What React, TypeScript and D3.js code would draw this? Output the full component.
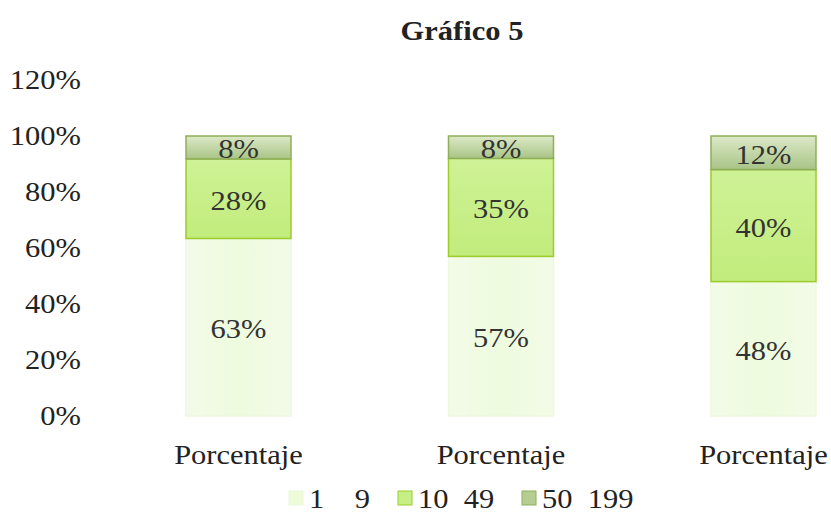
import React from "react";
import * as d3 from "d3";

const WIDTH = 831;
const HEIGHT = 522;

const categories = ["Porcentaje A", "Porcentaje B", "Porcentaje C"];
const categoryLabels = ["Porcentaje", "Porcentaje", "Porcentaje"];
const seriesNames = ["1    9", "10  49", "50  199"];
// shares (labels show them rounded)
const small = [63.4, 57, 48]; // 1 - 9
const medium = [28.4, 35, 40]; // 10 - 49
const large = [8.2, 8, 12]; // 50 - 199
const yTicks = [0, 20, 40, 60, 80, 100, 120];

const fills = ["url(#g0)", "url(#g1)", "url(#g2)"];
const strokes = ["#eef7df", "#9ccc2c", "#8fae5a"];
const legendFills = ["#eefbd8", "#c6ef86", "#b5cd92"];

const FONT = "'Liberation Serif', 'Times New Roman', serif";
const SX = 1.13; // the scan is a bit wider than tall

function T(props: {
  x: number;
  y: number;
  size: number;
  anchor?: string;
  bold?: boolean;
  fill?: string;
  children: React.ReactNode;
}) {
  return (
    <text
      transform={`translate(${props.x},${props.y}) scale(${SX},1)`}
      textAnchor={props.anchor ?? "start"}
      fontFamily={FONT}
      fontSize={props.size}
      fontWeight={props.bold ? "bold" : "normal"}
      fill={props.fill ?? "#222"}
      style={{ whiteSpace: "pre" }}
    >
      {props.children}
    </text>
  );
}

export default function App() {
  const x = d3.scaleBand().domain(categories).range([186, 816]).paddingInner(0.6).paddingOuter(0);
  const y = d3.scaleLinear().domain([0, 120]).range([416, 80]);

  const series = [small, medium, large];
  const rows = categories.map((c, i) => ({ c, v: series.map((s) => s[i]) }));
  const stack = d3
    .stack<{ c: string; v: number[] }>()
    .keys(["0", "1", "2"])
    .value((d, k) => d.v[+k]);
  const layers = stack(rows);

  const legendX = [289, 398, 522];

  return (
    <svg width={WIDTH} height={HEIGHT} style={{ position: "absolute", left: 0, top: 0, background: "#fff" }}>
      <defs>
        <linearGradient id="g0" x1="0" x2="1" y1="0" y2="0">
          <stop offset="0" stopColor="#f3fbe8" />
          <stop offset="0.5" stopColor="#eefbde" />
          <stop offset="1" stopColor="#f3fbe8" />
        </linearGradient>
        <linearGradient id="g1" x1="0" x2="0" y1="0" y2="1">
          <stop offset="0" stopColor="#cef296" />
          <stop offset="1" stopColor="#c2ec7c" />
        </linearGradient>
        <linearGradient id="g2" x1="0" x2="0" y1="0" y2="1">
          <stop offset="0" stopColor="#dce9c8" />
          <stop offset="1" stopColor="#a9c486" />
        </linearGradient>
      </defs>

      <T x={462} y={40} size={27} anchor="middle" bold>
        Gráfico 5
      </T>

      {yTicks.map((t) => (
        <T key={t} x={81} y={y(t) + 9} size={27} anchor="end">
          {t}%
        </T>
      ))}

      {layers.map((layer, li) =>
        layer.map((d, i) => (
          <g key={`${li}-${i}`}>
            <rect
              x={x(categories[i])}
              y={y(d[1])}
              width={x.bandwidth()}
              height={y(d[0]) - y(d[1])}
              fill={fills[li]}
              stroke={strokes[li]}
              strokeWidth={1.5}
            />
            <T
              x={(x(categories[i]) ?? 0) + x.bandwidth() / 2}
              y={y((d[0] + d[1]) / 2) + 11}
              size={27}
              anchor="middle"
              fill="#333"
            >
              {Math.round(series[li][i])}%
            </T>
          </g>
        ))
      )}

      {categories.map((c, i) => (
        <T key={c} x={(x(c) ?? 0) + x.bandwidth() / 2} y={464} size={27} anchor="middle">
          {categoryLabels[i]}
        </T>
      ))}

      {seriesNames.map((n, i) => (
        <g key={n}>
          <rect x={legendX[i]} y={491} width={14} height={14} fill={legendFills[i]} stroke={strokes[i]} />
          <T x={legendX[i] + 20} y={508} size={27}>
            {n}
          </T>
        </g>
      ))}
    </svg>
  );
}
